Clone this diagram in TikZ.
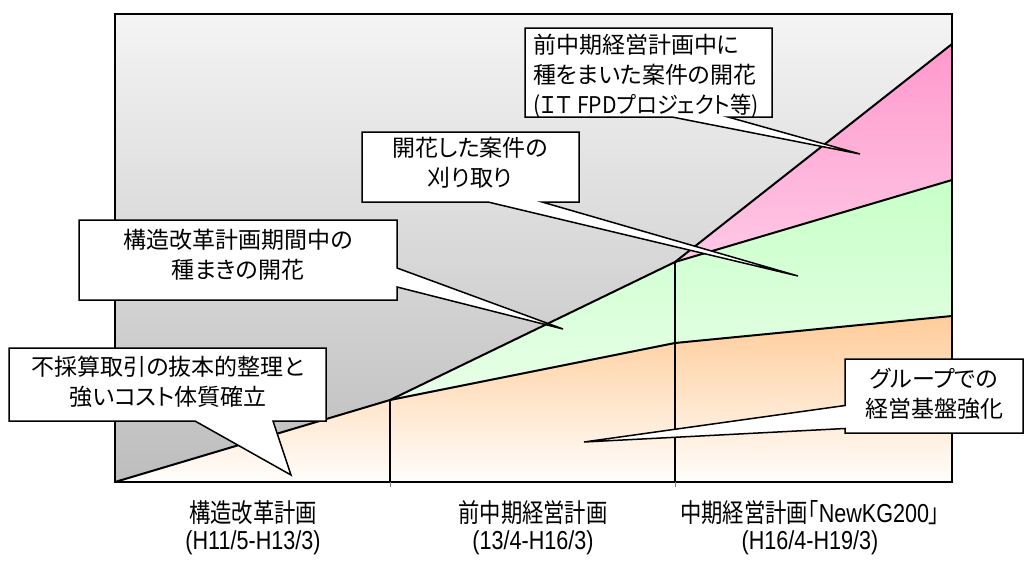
\documentclass[tikz,border=0pt]{standalone}
\usepackage{graphicx}
\usepackage{fontspec}
\newfontfamily\jpfont[RawFeature=+palt]{Noto Sans CJK JP}
\newfontfamily\jpnarrow[FakeStretch=0.82,RawFeature=+palt]{Noto Sans CJK JP}
\newfontfamily\latnarrow[FakeStretch=0.83]{Liberation Sans}
\definecolor{grayT}{HTML}{F4F4F4}
\definecolor{grayB}{HTML}{BDBDBD}
\definecolor{orT}{HTML}{FFCC99}
\definecolor{orB}{HTML}{FFFDFB}
\definecolor{grT}{HTML}{C8FFC8}
\definecolor{grB}{HTML}{E8FFE8}
\definecolor{pkT}{HTML}{FF99CC}
\definecolor{pkB}{HTML}{FFC8E6}
\tikzset{
  bound/.style={line width=2pt, line join=round},
  divider/.style={line width=1.2pt},
  frameline/.style={line width=1.3pt},
  tickline/.style={line width=1pt, draw=gray},
  calloutbox/.style={draw=black, fill=white, line width=1.5pt, line join=miter},
  ctext/.style={font=\jpfont\fontsize{23}{30}\selectfont, align=center, inner sep=0pt},
  periodtext/.style={font=\fontsize{26}{30}\selectfont, inner sep=0pt}
}
\begin{document}
\begin{tikzpicture}[x=1pt,y=-1pt]
\useasboundingbox (0,0) rectangle (1026,570);
\fill[white] (0,0) rectangle (1026,570);
% key points
\coordinate (TL) at (115,14);
\coordinate (BR) at (952,482);
\coordinate (O) at (115,482);
\coordinate (A1) at (390,400);
\coordinate (A2) at (675,262);
\coordinate (P) at (952,44);
\coordinate (G) at (952,180);
\coordinate (Q) at (952,316);
\coordinate (B2) at (675,343);
\coordinate (F1) at (390,482);
\coordinate (F2) at (675,482);
% regions
\shade[top color=grayT, bottom color=grayB] (TL) rectangle (BR);
\shade[top color=orT, bottom color=orB] (O) -- (A1) -- (B2) -- (Q) -- (BR) -- cycle;
\shade[top color=grT, bottom color=grB] (A1) -- (A2) -- (G) -- (Q) -- (B2) -- cycle;
\shade[top color=pkT, bottom color=pkB] (A2) -- (P) -- (G) -- cycle;
% boundaries
\draw[bound] (O) -- (A1) -- (A2) -- (P);
\draw[bound] (A2) -- (G);
\draw[bound] (A1) -- (B2) -- (Q);
\draw[divider] (A1) -- (F1);
\draw[divider] (A2) -- (F2);
\draw[frameline] (TL) rectangle (BR);
\draw[tickline] (F1) -- ++(0,5);
\draw[tickline] (F2) -- ++(0,5);
% callout tips
\coordinate (t1) at (860,154);
\coordinate (t2) at (798,276);
\coordinate (t3) at (563,329);
\coordinate (t4) at (291,475);
\coordinate (t5) at (584,442);
% callouts
\draw[calloutbox] (525,28) -- (772,28) -- (772,117) -- (728,117) -- (t1) -- (672,117) -- (525,117) -- cycle;
\node[ctext, anchor=west, align=left] (c1) at (533,76) {前中期経営計画中に\\種をまいた案件の開花\\\scalebox{0.92}[1]{(ＩＴ FPDプロジェクト等)}};
\draw[calloutbox] (362,132) -- (579,132) -- (579,202) -- (542,202) -- (t2) -- (488,202) -- (362,202) -- cycle;
\node[ctext] (c2) at (470,162.5) {開花した案件の\\刈り取り};
\draw[calloutbox] (79,220) -- (397,220) -- (397,268) -- (t3) -- (397,287) -- (397,300) -- (79,300) -- cycle;
\node[ctext] (c3) at (238,255) {構造改革計画期間中の\\種まきの開花};
\draw[calloutbox] (9,348) -- (326,348) -- (326,421) -- (273,421) -- (t4) -- (195,421) -- (9,421) -- cycle;
\node[ctext] (c4) at (168,382) {不採算取引の抜本的整理と\\強いコスト体質確立};
\draw[calloutbox] (845,359) -- (1023,359) -- (1023,433) -- (845,433) -- (845,428.5) -- (t5) -- (845,405.5) -- cycle;
\node[ctext] (c5) at (934,394) {グループでの\\経営基盤強化};
% period labels
\node[periodtext] (p1a) at (253,513) {\jpnarrow 構造改革計画};
\node[periodtext] (p1b) at (253,543) {\latnarrow (H11/5-H13/3)};
\node[periodtext] (p2a) at (533,513) {\jpnarrow 前中期経営計画};
\node[periodtext] (p2b) at (533,543) {\latnarrow (13/4-H16/3)};
\node[periodtext] (p3a) at (810,513) {{\jpnarrow 中期経営計画「}{\latnarrow NewKG200}{\jpnarrow 」}};
\node[periodtext] (p3b) at (810,543) {\latnarrow (H16/4-H19/3)};
\end{tikzpicture}
\end{document}
